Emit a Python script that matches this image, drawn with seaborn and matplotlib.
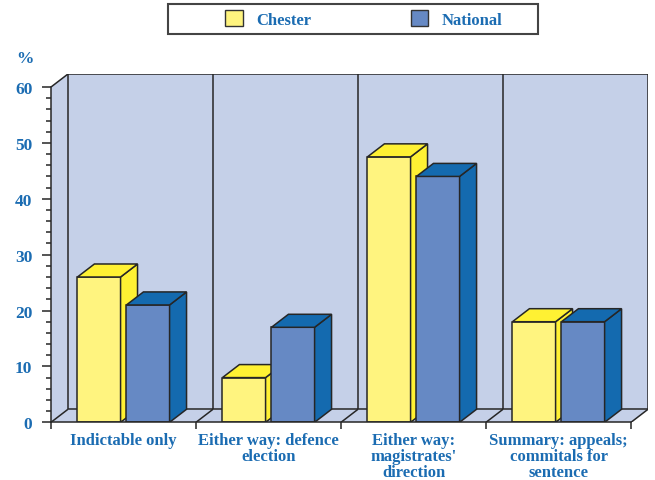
import matplotlib
matplotlib.use("Agg")
import matplotlib.pyplot as plt
from matplotlib.patches import Polygon, Rectangle, Patch
from matplotlib.ticker import FixedLocator, NullFormatter
import seaborn as sns
import pandas as pd

# --- data -------------------------------------------------------------
categories = [
    "Indictable only",
    "Either way: defence\nelection",
    "Either way:\nmagistrates'\ndirection",
    "Summary: appeals;\ncommitals for\nsentence",
]
chester = [26, 8, 47.5, 18]
national = [21, 17, 44, 18]
series = ["Chester", "National"]

# --- style ------------------------------------------------------------
sns.set_theme(style="ticks")
plt.rcParams["font.family"] = ["Liberation Serif", "DejaVu Serif"]

TEXT_BLUE = "#1b6cb2"
EDGE = "#262626"
WALL = "#c5d0e8"
FRONT = {"Chester": "#fff47f", "National": "#6689c4"}
SHADE = {"Chester": "#fff133", "National": "#146aaf"}

df = pd.DataFrame({
    "category": categories * 2,
    "value": chester + national,
    "area": ["Chester"] * len(categories) + ["National"] * len(categories),
})

fig = plt.figure(figsize=(6.55, 4.81), dpi=100)
ax = fig.add_axes([51 / 655, 1 - 423.3 / 481, 597 / 655, 348.3 / 481])

sns.barplot(
    data=df, x="category", y="value", hue="area", hue_order=series,
    palette=[FRONT[s] for s in series], saturation=1,
    width=0.676, gap=0.12, edgecolor=EDGE, linewidth=1.1,
    legend=False, ax=ax,
)

# depth of the pseudo-3D box (data units)
DX, DY = 0.117, 2.33
YMAX = 60
x0, x1 = -0.5, len(categories) - 0.5

# bar sides and tops
for k, (name, cont) in enumerate(zip(series, ax.containers)):
    base_z = 2 + k
    for bar in cont:
        bar.set_zorder(base_z)
        bx = bar.get_x()
        bw = bar.get_width()
        h = bar.get_height()
        side = Polygon([(bx + bw, 0), (bx + bw + DX, DY), (bx + bw + DX, h + DY), (bx + bw, h)],
                       closed=True, facecolor=SHADE[name], edgecolor=EDGE,
                       linewidth=1.1, zorder=base_z + 0.1, joinstyle="miter")
        top = Polygon([(bx, h), (bx + DX, h + DY), (bx + bw + DX, h + DY), (bx + bw, h)],
                      closed=True, facecolor=SHADE[name], edgecolor=EDGE,
                      linewidth=1.1, zorder=base_z + 0.1, joinstyle="miter")
        ax.add_patch(side)
        ax.add_patch(top)

# walls and floor
wall_kw = dict(closed=True, facecolor=WALL, edgecolor="none", zorder=0)
ax.add_patch(Polygon([(x0 + DX, DY), (x1 + DX, DY), (x1 + DX, YMAX + DY), (x0 + DX, YMAX + DY)], **wall_kw))
ax.add_patch(Polygon([(x0, 0), (x0 + DX, DY), (x0 + DX, YMAX + DY), (x0, YMAX)], **wall_kw))
ax.add_patch(Polygon([(x0, 0), (x1, 0), (x1 + DX, DY), (x0 + DX, DY)], **wall_kw))

line_kw = dict(color=EDGE, linewidth=1.1, zorder=0.5, solid_capstyle="butt")
ax.plot([x0, x0 + DX, x1 + DX, x1 + DX, x1], [YMAX, YMAX + DY, YMAX + DY, DY, 0], **line_kw)
ax.plot([x0 + DX, x1 + DX], [DY, DY], **line_kw)
ax.plot([x0 + DX, x0 + DX], [DY, YMAX + DY], **line_kw)
for b in range(len(categories)):
    xb = x0 + b
    ax.plot([xb, xb + DX], [0, DY], **line_kw)
    if b > 0:
        ax.plot([xb + DX, xb + DX], [DY, YMAX + DY], **line_kw)

# axes
ax.set_xlim(x0, x1 + DX)
ax.set_ylim(0, YMAX + DY)
ax.set_xlabel("")
ax.set_ylabel("")
for s in ("top", "right"):
    ax.spines[s].set_visible(False)
for s in ("left", "bottom"):
    ax.spines[s].set_color(EDGE)
    ax.spines[s].set_linewidth(1.1)
    ax.spines[s].set_zorder(5)
ax.spines["left"].set_bounds(0, YMAX)
ax.spines["bottom"].set_bounds(x0, x1)

ax.yaxis.set_major_locator(FixedLocator(range(0, 61, 10)))
ax.yaxis.set_minor_locator(FixedLocator(range(0, 61, 2)))
ax.tick_params(axis="y", which="major", length=6.5, width=1.1, color=EDGE, pad=7,
               labelsize=12.5, labelcolor=TEXT_BLUE)
ax.tick_params(axis="y", which="minor", length=3.6, width=1.1, color=EDGE)
for t in ax.get_yticklabels():
    t.set_fontweight("bold")

ax.xaxis.set_major_locator(FixedLocator([x0 + b for b in range(len(categories) + 1)]))
ax.xaxis.set_major_formatter(NullFormatter())
ax.xaxis.set_minor_locator(FixedLocator(range(len(categories))))
ax.set_xticklabels(categories, minor=True)
ax.tick_params(axis="x", which="major", length=5, width=1.1, color=EDGE)
ax.tick_params(axis="x", which="minor", length=0, pad=7, labelsize=12, labelcolor=TEXT_BLUE)
for t in ax.get_xticklabels(minor=True):
    t.set_fontweight("bold")
    t.set_linespacing(0.98)
    t.set_verticalalignment("top")
    t.set_horizontalalignment("center")

fig.text(24.5 / 655, 1 - 59 / 481, "%", color=TEXT_BLUE, fontsize=12.5,
         fontweight="bold", ha="center", va="center")

# legend box
fig.patches.append(Rectangle((168 / 655, 1 - 35 / 481), 370 / 655, 30 / 481,
                             transform=fig.transFigure, facecolor="white",
                             edgecolor="#444444", linewidth=1.5))
handles = [Patch(facecolor=FRONT[s], edgecolor="#333333", linewidth=1.0) for s in series]
leg = fig.legend(handles, series, loc="center left",
                 bbox_to_anchor=(225 / 655, 1 - 20 / 481), ncol=2, frameon=False,
                 borderpad=0, borderaxespad=0, handlelength=1.05, handleheight=1.05,
                 handletextpad=0.8, columnspacing=6.0,
                 prop={"family": "Liberation Serif", "weight": "bold", "size": 12})
for t in leg.get_texts():
    t.set_color(TEXT_BLUE)

fig.savefig("out.png", dpi=100)
